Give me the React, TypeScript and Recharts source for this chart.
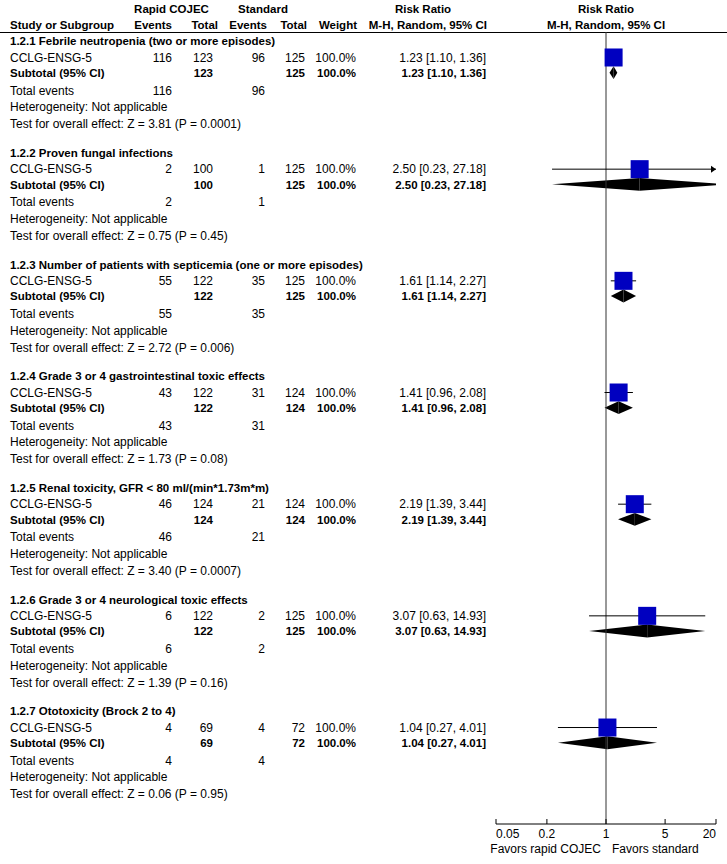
import React from "react";
import {
  ScatterChart,
  Scatter,
  XAxis,
  YAxis,
  ReferenceLine,
  ReferenceArea,
} from "recharts";

const subgroups = [
  "1.2.1 Febrile neutropenia (two or more episodes)",
  "1.2.2 Proven fungal infections",
  "1.2.3 Number of patients with septicemia (one or more episodes)",
  "1.2.4 Grade 3 or 4 gastrointestinal toxic effects",
  "1.2.5 Renal toxicity, GFR < 80 ml/(min*1.73m*m)",
  "1.2.6 Grade 3 or 4 neurological toxic effects",
  "1.2.7 Ototoxicity (Brock 2 to 4)",
];
const studyName = "CCLG-ENSG-5";
const rapidEvents = [116, 2, 55, 43, 46, 6, 4];
const rapidTotal = [123, 100, 122, 122, 124, 122, 69];
const stdEvents = [96, 1, 35, 31, 21, 2, 4];
const stdTotal = [125, 125, 125, 124, 124, 125, 72];
const weights = ["100.0%", "100.0%", "100.0%", "100.0%", "100.0%", "100.0%", "100.0%"];
const riskRatio = [1.23, 2.5, 1.61, 1.41, 2.19, 3.07, 1.04];
const ciLower = [1.1, 0.23, 1.14, 0.96, 1.39, 0.63, 0.27];
const ciUpper = [1.36, 27.18, 2.27, 2.08, 3.44, 14.93, 4.01];
const zValues = ["3.81", "0.75", "2.72", "1.73", "3.40", "1.39", "0.06"];
const pValues = ["0.0001", "0.45", "0.006", "0.08", "0.0007", "0.16", "0.95"];
const axisTicks = [0.05, 0.2, 1, 5, 20];

// layout
const W = 727;
const H = 864;
const PLOT_LEFT = 496;
const PLOT_RIGHT = 716;
const PLOT_TOP = 32;
const PLOT_BOTTOM = 824;
const ROW_PX = 16.5;
const ROWS = (PLOT_BOTTOM - PLOT_TOP) / ROW_PX;
const FIRST_ROW = 0.545;
const GROUP_STRIDE = 6.768;
const OFF = { study: 1.0, subtotal: 1.92, total: 3.0, het: 4.0, test: 5.03 };
const DIAMOND_HALF = 0.39;

const FONT = "'Liberation Sans', Arial, sans-serif";
const BOLD_SIZE = 11.5;
const COL = {
  name: 10,
  rapidEvents: 172,
  rapidTotal: 213,
  stdEvents: 265,
  stdTotal: 305,
  weight: 356,
  rr: 486,
};

const headRow = (g: number) => FIRST_ROW + g * GROUP_STRIDE;
const baseline = (row: number) => PLOT_TOP + row * ROW_PX + 4.3;
const fmt = (v: number) => v.toFixed(2);
const rrText = (g: number) =>
  `${fmt(riskRatio[g])} [${fmt(ciLower[g])}, ${fmt(ciUpper[g])}]`;

const xMin = axisTicks[0];
const xMax = axisTicks[axisTicks.length - 1];

const studyPoints = riskRatio.map((v, g) => ({ x: v, y: headRow(g) + OFF.study }));
const rightArrows = ciUpper
  .map((u, g) => (u > xMax ? { x: xMax, y: headRow(g) + OFF.study } : null))
  .filter(Boolean) as { x: number; y: number }[];

const T = (props: any) => (
  <text fontFamily={FONT} fontSize={12} fill="#000" {...props} />
);
const B = (props: any) => (
  <text fontFamily={FONT} fontSize={BOLD_SIZE} fontWeight="bold" fill="#000" {...props} />
);

const AxisTick = (props: any) => {
  const { x, y, payload } = props;
  const v = payload.value;
  const anchor = v === xMin ? "start" : v === xMax ? "end" : "middle";
  return (
    <g>
      <line x1={x} y1={y} x2={x} y2={y - 5} stroke="#000" />
      <text x={x} y={y + 13.5} textAnchor={anchor} fontFamily={FONT} fontSize={12} fill="#000">
        {String(v)}
      </text>
    </g>
  );
};

const Square = (p: any) => (
  <rect x={p.cx - 9} y={p.cy - 9} width={18} height={18} fill="#0000C0" />
);
const Arrow = (p: any) => (
  <polygon points={`${p.cx - 5},${p.cy - 3.5} ${p.cx},${p.cy} ${p.cx - 5},${p.cy + 3.5}`} fill="#000" />
);
const LeftHalf = (p: any) => (
  <polygon
    clipPath={p.clipPath}
    points={`${p.x},${p.y + p.height / 2} ${p.x + p.width},${p.y} ${p.x + p.width},${p.y + p.height}`}
    fill="#000"
  />
);
const RightHalf = (p: any) => (
  <polygon
    clipPath={p.clipPath}
    points={`${p.x},${p.y} ${p.x + p.width},${p.y + p.height / 2} ${p.x},${p.y + p.height}`}
    fill="#000"
  />
);

function TableText() {
  const onePx = PLOT_LEFT + ((0 - Math.log10(xMin)) / (Math.log10(xMax) - Math.log10(xMin))) * (PLOT_RIGHT - PLOT_LEFT);
  return (
    <svg width={W} height={H} style={{ position: "absolute", left: 0, top: 0 }}>
      <B x={171.5} y={12.7} textAnchor="middle">Rapid COJEC</B>
      <B x={263} y={12.7} textAnchor="middle">Standard</B>
      <B x={423} y={12.7} textAnchor="middle">Risk Ratio</B>
      <B x={onePx} y={12.7} textAnchor="middle">Risk Ratio</B>
      <B x={COL.name} y={28.7}>Study or Subgroup</B>
      <B x={172} y={28.7} textAnchor="end">Events</B>
      <B x={218} y={28.7} textAnchor="end">Total</B>
      <B x={267} y={28.7} textAnchor="end">Events</B>
      <B x={307} y={28.7} textAnchor="end">Total</B>
      <B x={357} y={28.7} textAnchor="end">Weight</B>
      <B x={487} y={28.7} textAnchor="end">M-H, Random, 95% CI</B>
      <B x={onePx} y={28.7} textAnchor="middle">M-H, Random, 95% CI</B>
      <line x1={0} y1={32.5} x2={W} y2={32.5} stroke="#000" />
      {subgroups.map((name, g) => {
        const h = headRow(g);
        return (
          <g key={name}>
            <B x={COL.name} y={baseline(h)}>{name}</B>
            <T x={COL.name} y={baseline(h + OFF.study)}>{studyName}</T>
            <T x={COL.rapidEvents} y={baseline(h + OFF.study)} textAnchor="end">{rapidEvents[g]}</T>
            <T x={COL.rapidTotal} y={baseline(h + OFF.study)} textAnchor="end">{rapidTotal[g]}</T>
            <T x={COL.stdEvents} y={baseline(h + OFF.study)} textAnchor="end">{stdEvents[g]}</T>
            <T x={COL.stdTotal} y={baseline(h + OFF.study)} textAnchor="end">{stdTotal[g]}</T>
            <T x={COL.weight} y={baseline(h + OFF.study)} textAnchor="end">{weights[g]}</T>
            <T x={COL.rr} y={baseline(h + OFF.study)} textAnchor="end">{rrText(g)}</T>
            <B x={COL.name} y={baseline(h + OFF.subtotal)}>Subtotal (95% CI)</B>
            <B x={COL.rapidTotal} y={baseline(h + OFF.subtotal)} textAnchor="end">{rapidTotal[g]}</B>
            <B x={COL.stdTotal} y={baseline(h + OFF.subtotal)} textAnchor="end">{stdTotal[g]}</B>
            <B x={COL.weight} y={baseline(h + OFF.subtotal)} textAnchor="end">{weights[g]}</B>
            <B x={COL.rr} y={baseline(h + OFF.subtotal)} textAnchor="end">{rrText(g)}</B>
            <T x={COL.name} y={baseline(h + OFF.total)}>Total events</T>
            <T x={COL.rapidEvents} y={baseline(h + OFF.total)} textAnchor="end">{rapidEvents[g]}</T>
            <T x={COL.stdEvents} y={baseline(h + OFF.total)} textAnchor="end">{stdEvents[g]}</T>
            <T x={COL.name} y={baseline(h + OFF.het)}>Heterogeneity: Not applicable</T>
            <T x={COL.name} y={baseline(h + OFF.test)}>
              {`Test for overall effect: Z = ${zValues[g]} (P = ${pValues[g]})`}
            </T>
          </g>
        );
      })}
      <T x={onePx - 5} y={853} textAnchor="end">Favors rapid COJEC</T>
      <T x={onePx + 6} y={853}>Favors standard</T>
    </svg>
  );
}

export default function App() {
  return (
    <div style={{ position: "absolute", left: 0, top: 0, width: W, height: H, background: "#fff" }}>
      <TableText />
      <div style={{ position: "absolute", left: 0, top: 0 }}>
        <ScatterChart
          width={W}
          height={H}
          margin={{ top: PLOT_TOP, right: W - PLOT_RIGHT, bottom: 0, left: PLOT_LEFT }}
        >
          <XAxis
            type="number"
            dataKey="x"
            scale="log"
            domain={[xMin, xMax]}
            ticks={axisTicks}
            allowDataOverflow
            height={H - PLOT_BOTTOM}
            tickSize={0}
            tickMargin={0}
            tickLine={false}
            axisLine={{ stroke: "#000" }}
            tick={<AxisTick />}
            interval={0}
          />
          <YAxis type="number" dataKey="y" domain={[0, ROWS]} reversed allowDataOverflow hide />
          <ReferenceLine x={1} stroke="#333" />
          {subgroups.map((name, g) => {
            const r = headRow(g) + OFF.study;
            return (
              <ReferenceLine
                key={`ci-${name}`}
                segment={[
                  { x: ciLower[g], y: r },
                  { x: ciUpper[g], y: r },
                ]}
                stroke="#000"
                ifOverflow="hidden"
              />
            );
          })}
          {subgroups.map((name, g) => {
            const r = headRow(g) + OFF.subtotal;
            return (
              <React.Fragment key={`dm-${name}`}>
                <ReferenceArea
                  x1={ciLower[g]}
                  x2={riskRatio[g]}
                  y1={r - DIAMOND_HALF}
                  y2={r + DIAMOND_HALF}
                  ifOverflow="hidden"
                  shape={LeftHalf}
                />
                <ReferenceArea
                  x1={riskRatio[g]}
                  x2={ciUpper[g]}
                  y1={r - DIAMOND_HALF}
                  y2={r + DIAMOND_HALF}
                  ifOverflow="hidden"
                  shape={RightHalf}
                />
              </React.Fragment>
            );
          })}
          <Scatter data={studyPoints} shape={Square} isAnimationActive={false} />
          <Scatter data={rightArrows} shape={Arrow} isAnimationActive={false} />
        </ScatterChart>
      </div>
    </div>
  );
}
